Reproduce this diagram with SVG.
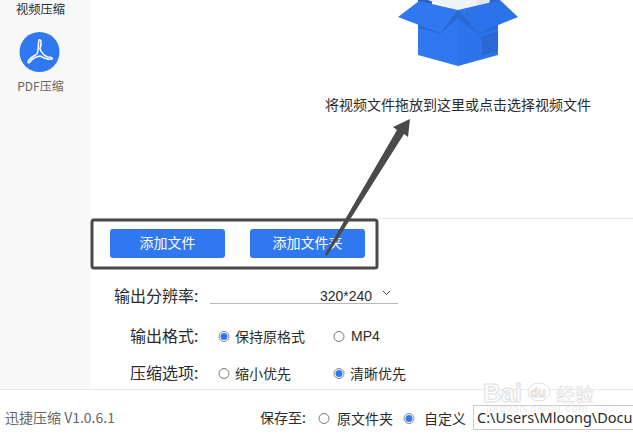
<svg xmlns="http://www.w3.org/2000/svg" width="633" height="435" viewBox="0 0 633 435">
<style>
text{font-family:"Noto Sans CJK SC","Noto Sans",sans-serif;fill:#2b2b2b;font-size:14px}
.btn{fill:#3078f0}
.bt{fill:#fff;font-size:14px;text-anchor:middle}
.off{fill:#fff;stroke:#777;stroke-width:1}
.on{fill:#fff;stroke:#888;stroke-width:1}
.dot{fill:#3078f0}
.lat{font-family:"Liberation Sans",sans-serif}
.lab{font-size:16px}
.wm{fill:#fff;stroke:#dedede;stroke-width:1}
</style>
<rect width="633" height="435" fill="#fff"/>
<rect width="90" height="389" fill="#f8f8f8"/>
<rect x="0" y="389" width="633" height="1" fill="#e8e8e8"/>
<rect x="90" y="218" width="543" height="1" fill="#e8e8e8"/>
<g id="sidebar">
<text x="40.500" y="13.500" text-anchor="middle" style="font-size:12.300px">视频压缩</text>
<circle cx="39.500" cy="52" r="20" fill="#3078f0"/>
<path d="M39 40c2-1 3 2 1 9c2 5 5 7 8 8c3 0 5 1 4 2c-2 1-6 0-12-3c-5 1-8 3-10 6c-2 2-3 0-1-2c2-3 5-4 8-6c2-5 1-12 2-14z" fill="none" stroke="#fff" stroke-width="1.500"/>
<text x="40.500" y="91" text-anchor="middle" style="font-size:12px;fill:#666">PDF压缩</text>
</g>
<g id="box-icon">
<path d="M418 0H432V6L418 6z" fill="#2a62c4"/>
<path d="M428 0H477V9L458 11z" fill="#eef3f3"/>
<path d="M477 0H490V6L477 9z" fill="#dfe8ee"/>
<path d="M490 0H500L498 8H488z" fill="#2a62c4"/>
<path d="M418 14L458 10V66L418 55z" fill="#2f78f0"/>
<path d="M458 10L498 14V55L458 66z" fill="#2c72e8"/>
<path d="M418 17L440 33L458 10V18L440 34L418 28z" fill="#2a68d2"/>
<path d="M498 17L478 33L458 10V18L478 34L498 28z" fill="#2a68d2"/>
<path d="M482 36L498 31V51L482 55z" fill="#2a68d2"/>
<path d="M398 17L419 1L458 10L440 33z" fill="#2f78f0"/>
<path d="M458 10L488 3L500 0L518 17L478 33z" fill="#2c72e8"/>
</g>
<text x="458" y="110" text-anchor="middle">将视频文件拖放到这里或点击选择视频文件</text>
<g id="add-file"><rect class="btn" x="110" y="229" width="115" height="29" rx="3"/><text class="bt" x="167.500" y="248">添加文件</text></g>
<g id="add-folder"><rect class="btn" x="250" y="229" width="115" height="29" rx="3"/><text class="bt" x="307.500" y="248">添加文件夹</text></g>
<g id="resolution">
<text class="lab" x="114" y="302">输出分辨率:</text>
<rect x="210" y="303" width="188" height="1" fill="#bbb"/>
<text class="lat" x="346" y="301" text-anchor="middle">320*240</text>
<path d="M383 291l3.500 3.500l3.500-3.500" fill="none" stroke="#444" stroke-width="1"/>
</g>
<g id="format">
<text class="lab" x="130" y="342">输出格式:</text>
<circle class="on" cx="224" cy="336.500" r="5"/><circle class="dot" cx="224" cy="336.500" r="3.500"/>
<text x="235" y="342">保持原格式</text>
<circle class="off" cx="339" cy="336.500" r="5"/>
<text class="lat" x="351" y="341">MP4</text>
</g>
<g id="options">
<text class="lab" x="130" y="379">压缩选项:</text>
<circle class="off" cx="224" cy="373.500" r="5"/>
<text x="235" y="379">缩小优先</text>
<circle class="on" cx="339" cy="373.500" r="5"/><circle class="dot" cx="339" cy="373.500" r="3.500"/>
<text x="350" y="379">清晰优先</text>
</g>
<g id="footer">
<text x="5" y="423" style="fill:#666">迅捷压缩 V1.0.6.1</text>
<text x="260" y="423">保存至:</text>
<circle class="off" cx="324" cy="418.500" r="5"/>
<text x="337" y="424">原文件夹</text>
<circle class="on" cx="409" cy="418.500" r="5"/><circle class="dot" cx="409" cy="418.500" r="3.500"/>
<text x="424" y="424">自定义</text>
<rect x="473.500" y="405.500" width="170" height="24" fill="#fff" stroke="#ccc"/>
<text x="477" y="423" style="font-family:'Noto Sans',sans-serif;font-size:14.500px">C:\Users\Mloong\Docu</text>
</g>
<g id="watermark">
<ellipse cx="539" cy="392" rx="11" ry="9" fill="#fff" stroke="#dedede"/>
<text class="lat wm" x="483" y="402" style="font-size:25px;font-weight:bold">Bai</text>
<text class="lat wm" x="530" y="397" style="font-size:13px;font-weight:bold">du</text>
<text class="wm" x="556" y="402" style="font-size:19px;stroke-width:.6">经验</text>
<text class="lat" x="486" y="412" style="font-size:11px;letter-spacing:.8px;fill:#ececec">jingyan.baidu.com</text>
</g>
<g id="connectors">
<rect x="92" y="220" width="285" height="48" rx="2" fill="none" stroke="#4a4a4a" stroke-width="3"/>
<path d="M325 254L327 256L404 134L408 137L410 119L393 127L397 130z" fill="#4a4a4a"/>
</g>
</svg>
